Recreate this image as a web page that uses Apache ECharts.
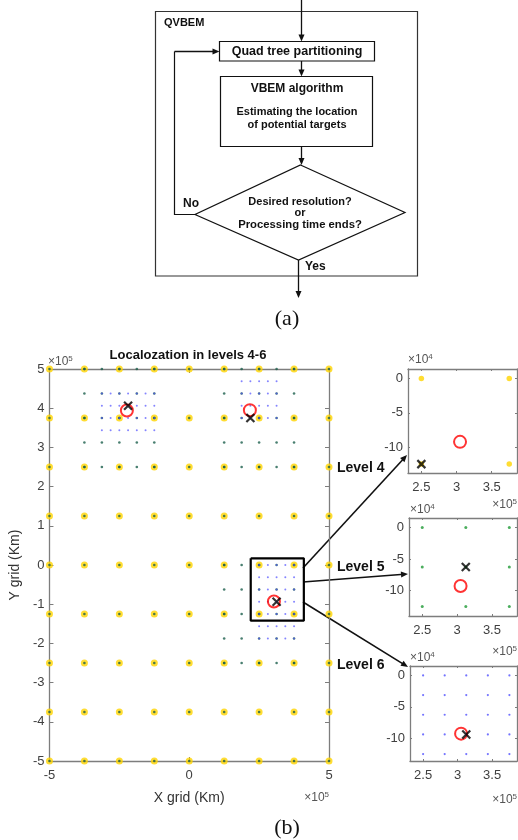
<!DOCTYPE html>
<html>
<head>
<meta charset="utf-8">
<script src="https://cdn.jsdelivr.net/npm/echarts@6/dist/echarts.min.js"></script>
<style>
  html, body { margin: 0; padding: 0; background: #fff; }
  #chart { width: 518px; height: 840px; }
</style>
</head>
<body>
<div id="chart"></div>
<script>
// ---------------- DATA ----------------
// Level-4 coarse grid coordinates (metres), used for both X and Y
const level4Coords = [-500000, -375000, -250000, -125000, 0, 125000, 250000, 375000, 500000];
// Level-5 refined regions
const l5LeftX   = [-375000, -312500, -250000, -187500, -125000];
const l5RightX  = [125000, 187500, 250000, 312500, 375000];
const l5TopY    = [500000, 437500, 375000, 312500, 250000];
const l5BottomY = [0, -62500, -125000, -187500, -250000];
// Level-6 refined regions
const l6LeftX   = [-312500, -281250, -250000, -218750, -187500, -156250, -125000];
const l6LeftY   = [437500, 406250, 375000, 343750];
const l6RightX  = [187500, 218750, 250000, 281250, 312500];
const l6RightY  = [468750, 437500, 406250, 375000];
const l6BottomX = [250000, 281250, 312500, 343750, 375000];
const l6BottomY = [0, -31250, -62500, -93750, -125000, -156250, -187500];
// True targets (red circles) and estimates (black crosses)
const targets   = [[-223000, 394000], [217000, 395000], [303000, -93000]];
const estimates = [[-218750, 406250], [218750, 375000], [312500, -93750]];
// Zoom rectangle on main plot
const zoomBoxX = [220000, 410000];
const zoomBoxY = [-142000, 17000];
// Inset grids
const inset4X = [250000, 375000];
const inset4Y = [0, -125000];
const inset5X = [250000, 312500, 375000];
const inset5Y = [0, -62500, -125000];
const inset6X = [250000, 281250, 312500, 343750, 375000];
const inset6Y = [0, -31250, -62500, -93750, -125000];
const insetTarget = [305000, -92500];
const estimateL4 = [250000, -125000];
const estimateL5 = [312500, -62500];
const estimateL6 = [312500, -93750];
// Tick values
const insetXTicks = [250000, 300000, 350000];
const insetYTicks = [0, -50000, -100000];

// ---------------- HELPERS ----------------
function grid(xs, ys) {
  const out = [];
  ys.forEach(y => xs.forEach(x => out.push([x, y])));
  return out;
}
const FONT = 'Liberation Sans, Arial, Helvetica, sans-serif';
const AX = '#7d7d7d';
const LBL = '#404040';
const YELLOW = '#FFD400';
const GREEN = '#1f9a36';
const CENTER = '#1c5f4c';
const BLUE = '#5050ff';

const lvl4 = grid(level4Coords, level4Coords);
const lvl5 = [].concat(grid(l5LeftX, l5TopY), grid(l5RightX, l5TopY), grid(l5RightX, l5BottomY));
const lvl6 = [].concat(grid(l6LeftX, l6LeftY), grid(l6RightX, l6RightY), grid(l6BottomX, l6BottomY));
const boxPath = [
  [zoomBoxX[0], zoomBoxY[1]], [zoomBoxX[1], zoomBoxY[1]],
  [zoomBoxX[1], zoomBoxY[0]], [zoomBoxX[0], zoomBoxY[0]], [zoomBoxX[0], zoomBoxY[1]]
];

const crossSymbol = 'path://M0,0L10,10M10,0L0,10';
function scatter(gi, data, opts) {
  return Object.assign({
    type: 'scatter', xAxisIndex: gi * 2, yAxisIndex: gi * 2, data: data,
    silent: true, animation: false
  }, opts);
}
function redCircles(gi, data, size) {
  return scatter(gi, data, { symbol: 'circle', symbolSize: size, z: 5,
    itemStyle: { color: 'rgba(0,0,0,0)', borderColor: '#ff0000', borderWidth: 2 } });
}
function crosses(gi, data, size) {
  return scatter(gi, data, { symbol: crossSymbol, symbolSize: size, z: 6,
    itemStyle: { color: 'rgba(0,0,0,0)', borderColor: '#000', borderWidth: 2.2 } });
}

const fmt5 = v => String(+(v / 1e5).toFixed(2));
const fmt4 = v => String(+(v / 1e4).toFixed(2));

function axisPair(gi, dim, cfg) {
  const base = {
    type: 'value', gridIndex: gi, min: cfg.min, max: cfg.max,
    splitLine: { show: false },
    axisLine: { show: true, onZero: false, lineStyle: { color: AX, width: 1.3 } },
    axisTick: { show: true, inside: true, length: cfg.tick, lineStyle: { color: AX, width: 1 } }
  };
  if (cfg.interval) base.interval = cfg.interval;
  const a = JSON.parse(JSON.stringify(base));
  if (cfg.ticks) a.axisTick.customValues = cfg.ticks;
  a.position = dim === 'x' ? 'bottom' : 'left';
  a.axisLabel = { show: true, fontSize: 13, color: LBL, fontFamily: FONT,
    margin: dim === 'x' ? 8 : 5, formatter: cfg.fmt };
  if (cfg.ticks) a.axisLabel.customValues = cfg.ticks;
  if (cfg.name) {
    a.name = cfg.name; a.nameLocation = 'middle'; a.nameGap = cfg.nameGap;
    a.nameTextStyle = { fontSize: 14, color: '#333', fontFamily: FONT };
  }
  const b = JSON.parse(JSON.stringify(base));
  if (cfg.ticks) b.axisTick.customValues = cfg.ticks;
  b.position = dim === 'x' ? 'top' : 'right';
  b.axisLabel = { show: false };
  if (cfg.ticks) b.axisLabel.customValues = cfg.ticks;
  return [a, b];
}

const xAxes = [], yAxes = [];
function addGrid(gi, xc, yc) {
  const xs = axisPair(gi, 'x', xc), ys = axisPair(gi, 'y', yc);
  xAxes.push(xs[0], xs[1]); yAxes.push(ys[0], ys[1]);
}
addGrid(0,
  { min: -500000, max: 500000, interval: 500000, tick: 4, fmt: fmt5, name: 'X grid (Km)', nameGap: 30 },
  { min: -500000, max: 500000, interval: 100000, tick: 4, fmt: fmt5, name: 'Y grid (Km)', nameGap: 24 });
addGrid(1,
  { min: 231000, max: 386000, ticks: insetXTicks, tick: 2, fmt: fmt5 },
  { min: -138000, max: 14000, ticks: insetYTicks, tick: 2, fmt: fmt4 });
addGrid(2,
  { min: 231000, max: 386000, ticks: insetXTicks, tick: 2, fmt: fmt5 },
  { min: -140000, max: 15000, ticks: insetYTicks, tick: 2, fmt: fmt4 });
addGrid(3,
  { min: 231000, max: 386000, ticks: insetXTicks, tick: 2, fmt: fmt5 },
  { min: -136000, max: 15000, ticks: insetYTicks, tick: 2, fmt: fmt4 });

const series = [
  // main
  scatter(0, lvl4, { symbol: 'circle', symbolSize: 7, z: 2, itemStyle: { color: YELLOW } }),
  scatter(0, lvl4, { symbol: 'circle', symbolSize: 2.6, z: 3, itemStyle: { color: CENTER } }),
  scatter(0, lvl5, { symbol: 'circle', symbolSize: 2.6, z: 3, itemStyle: { color: CENTER } }),
  scatter(0, lvl6, { symbol: 'circle', symbolSize: 2, z: 3, itemStyle: { color: BLUE, opacity: 0.7 } }),
  redCircles(0, targets, 12),
  crosses(0, estimates, 8),
  { type: 'line', xAxisIndex: 0, yAxisIndex: 0, data: boxPath, symbol: 'none', silent: true,
    animation: false, z: 7, lineStyle: { color: '#000', width: 2.2 } },
  // inset level 4
  scatter(1, grid(inset4X, inset4Y), { symbol: 'circle', symbolSize: 5.5, z: 2, itemStyle: { color: YELLOW } }),
  redCircles(1, [insetTarget], 12),
  crosses(1, [estimateL4], 8),
  // inset level 5
  scatter(2, grid(inset5X, inset5Y), { symbol: 'circle', symbolSize: 3, z: 2, itemStyle: { color: GREEN } }),
  redCircles(2, [insetTarget], 12),
  crosses(2, [estimateL5], 8),
  // inset level 6
  scatter(3, grid(inset6X, inset6Y), { symbol: 'circle', symbolSize: 2.2, z: 2, itemStyle: { color: BLUE } }),
  redCircles(3, [insetTarget], 12),
  crosses(3, [estimateL6], 8)
];

// ---------------- GRAPHICS (flowchart, labels, arrows) ----------------
const INK = '#111';
function arrowHead(x1, y1, x2, y2, len, wid) {
  const a = Math.atan2(y2 - y1, x2 - x1);
  const bx = x2 - len * Math.cos(a), by = y2 - len * Math.sin(a);
  const nx = -Math.sin(a) * wid / 2, ny = Math.cos(a) * wid / 2;
  return { type: 'polygon', silent: true, shape: { points: [[x2, y2], [bx + nx, by + ny], [bx - nx, by - ny]] },
    style: { fill: INK } };
}
function arrow(x1, y1, x2, y2, w) {
  const a = Math.atan2(y2 - y1, x2 - x1);
  return [
    { type: 'line', silent: true, shape: { x1: x1, y1: y1, x2: x2 - 4 * Math.cos(a), y2: y2 - 4 * Math.sin(a) },
      style: { stroke: INK, lineWidth: w || 1.3 } },
    arrowHead(x1, y1, x2, y2, 7, 6)
  ];
}
function txt(x, y, s, size, opts) {
  return { type: 'text', silent: true, x: x, y: y,
    style: Object.assign({ text: s, fontSize: size, fontFamily: FONT, fontWeight: 'bold', fill: INK,
      align: 'center', verticalAlign: 'middle' }, opts || {}) };
}
function expo(x, y, p, align) {
  return { type: 'text', silent: true, x: x, y: y,
    style: { text: '×10{s|' + p + '}', fontSize: 12, fontFamily: FONT, fill: '#555',
      align: align || 'left', verticalAlign: 'middle',
      rich: { s: { fontSize: 8, fontFamily: FONT, fill: '#555', verticalAlign: 'top', lineHeight: 14 } } } };
}
const stroke = { fill: 'none', stroke: INK, lineWidth: 1.2 };
let g = [
  { type: 'rect', silent: true, shape: { x: 155.5, y: 11.5, width: 262, height: 264.5 }, style: Object.assign({}, stroke, { stroke: '#333' }) },
  txt(164, 23, 'QVBEM', 11, { align: 'left' }),
  { type: 'rect', silent: true, shape: { x: 219.5, y: 41.5, width: 155, height: 19.5 }, style: stroke },
  txt(297, 51.5, 'Quad tree partitioning', 12.5),
  { type: 'rect', silent: true, shape: { x: 220.5, y: 76.5, width: 152, height: 70 }, style: stroke },
  txt(297, 88.5, 'VBEM algorithm', 12),
  txt(297, 111.5, 'Estimating the location', 11),
  txt(297, 125, 'of potential targets', 11),
  { type: 'polygon', silent: true, shape: { points: [[300.5, 165], [405, 212.5], [298.5, 260], [195, 214.5]] }, style: stroke },
  txt(300, 201.5, 'Desired resolution?', 11),
  txt(300, 213, 'or', 11),
  txt(300, 224.5, 'Processing time ends?', 11.3),
  txt(183, 203.5, 'No', 12, { align: 'left' }),
  txt(305, 267, 'Yes', 12, { align: 'left' }),
  { type: 'polyline', silent: true, shape: { points: [[195, 214.5], [174.5, 214.5], [174.5, 51.5]] }, style: stroke },
  txt(287, 319, '(a)', 22, { fontFamily: 'Liberation Serif, Times New Roman, serif', fontWeight: 'normal' }),
  txt(287, 828, '(b)', 22, { fontFamily: 'Liberation Serif, Times New Roman, serif', fontWeight: 'normal' }),
  txt(188, 355, 'Localozation in levels 4-6', 13),
  txt(337, 468, 'Level 4', 14, { align: 'left' }),
  txt(337, 567, 'Level 5', 14, { align: 'left' }),
  txt(337, 665, 'Level 6', 14, { align: 'left' }),
  expo(48, 362, 5),
  expo(329, 798, 5, 'right'),
  expo(408, 360, 4),
  expo(517, 505, 5, 'right'),
  expo(410, 510, 4),
  expo(517, 652, 5, 'right'),
  expo(410, 658, 4),
  expo(517, 800, 5, 'right')
];
g = g.concat(
  arrow(301.5, 0, 301.5, 41.5),
  arrow(301.5, 61, 301.5, 76.5),
  arrow(301.5, 146.5, 301.5, 165),
  arrow(174.5, 51.5, 219.5, 51.5),
  arrow(298.5, 260, 298.5, 298),
  arrow(303, 568, 407, 455, 1.6),
  arrow(303, 582, 408, 574, 1.6),
  arrow(303, 602, 408, 667, 1.6)
);

const chart = echarts.init(document.getElementById('chart'), null, { renderer: 'canvas' });
chart.setOption({
  animation: false,
  backgroundColor: '#fff',
  textStyle: { fontFamily: FONT },
  grid: [
    { left: 47, top: 369, width: 282, height: 392 },
    { left: 408, top: 369, width: 109, height: 104 },
    { left: 409, top: 518, width: 108, height: 98 },
    { left: 410, top: 666, width: 107, height: 95 }
  ],
  xAxis: xAxes,
  yAxis: yAxes,
  series: series,
  graphic: g
});
</script>
</body>
</html>
